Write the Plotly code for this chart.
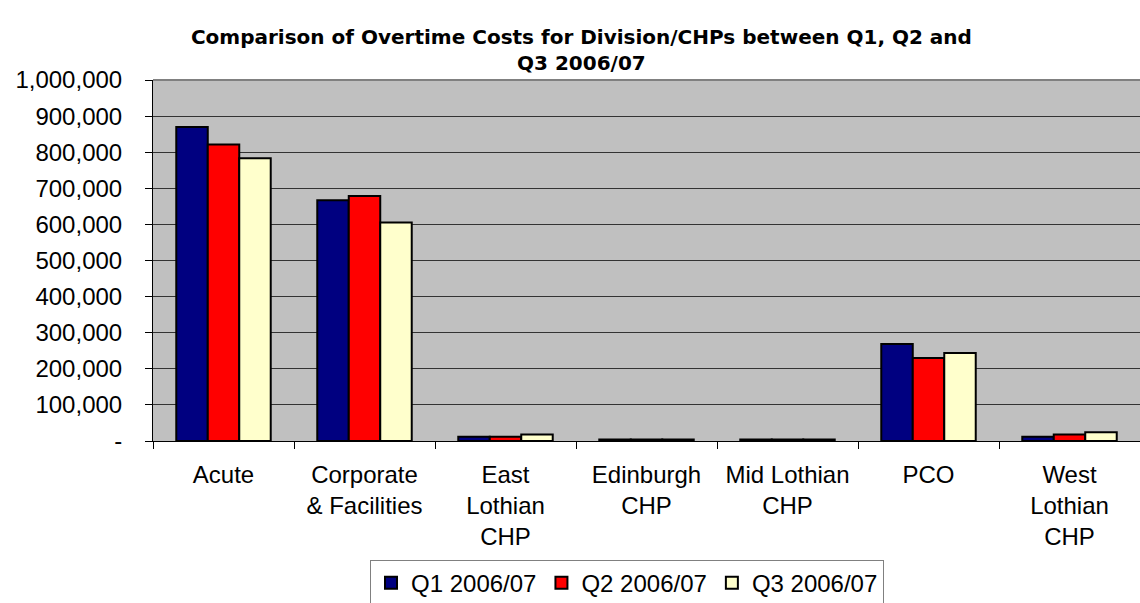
import plotly.graph_objects as go

# Overtime costs by Division/CHP for each quarter of 2006/07
categories = [
    "Acute",
    "Corporate<br>& Facilities",
    "East<br>Lothian<br>CHP",
    "Edinburgh<br>CHP",
    "Mid Lothian<br>CHP",
    "PCO",
    "West<br>Lothian<br>CHP",
]
q1_2006 = [870000, 667000, 12000, 4000, 4000, 269000, 12000]
q2_2006 = [821000, 679000, 12000, 4000, 4000, 230000, 18000]
q3_2006 = [783000, 605000, 18000, 4000, 4000, 244000, 24000]

series_names = ["Q1 2006/07", "Q2 2006/07", "Q3 2006/07"]
series_colors = ["#000080", "#FF0000", "#FFFFCC"]

y_ticks = list(range(0, 1000001, 100000))
y_labels = ["-"] + [f"{v:,}" for v in y_ticks[1:]]

FONT = "Liberation Sans, Arial, sans-serif"

fig = go.Figure()
for name, vals, col in zip(series_names, [q1_2006, q2_2006, q3_2006], series_colors):
    fig.add_trace(go.Bar(
        x=categories, y=vals, name=name,
        marker=dict(color=col, line=dict(color="black", width=2)),
    ))

fig.update_layout(
    width=1140, height=603,
    margin=dict(l=153, r=0, t=80, b=162, autoexpand=False),
    paper_bgcolor="white",
    plot_bgcolor="#C0C0C0",
    barmode="group",
    bargap=0.33,
    bargroupgap=0,
    font=dict(family=FONT, size=24, color="black"),
    title=dict(
        text="Comparison of Overtime Costs for Division/CHPs between Q1, Q2 and<br>Q3 2006/07",
        x=0.51, xanchor="center", xref="container",
        y=0.927, yanchor="top", yref="container",
        font=dict(family="DejaVu Sans, sans-serif", size=20, color="black", weight="bold"),
    ),
    legend=dict(
        orientation="h",
        x=0.55, xanchor="center", xref="container",
        y=0.072, yanchor="top", yref="container",
        bordercolor="#808080", borderwidth=1,
        font=dict(size=24),
        itemwidth=30,
        tracegroupgap=0,
    ),
    xaxis=dict(
        showgrid=False, automargin=False,
        ticks="outside", tickson="boundaries", ticklen=7, tickcolor="black",
        showline=True, linecolor="black", linewidth=1,
        ticklabelstandoff=12,
    ),
    yaxis=dict(
        range=[0, 1000000], automargin=False,
        tickvals=y_ticks, ticktext=y_labels,
        ticks="outside", ticklen=7, tickcolor="black",
        showline=True, linecolor="black", linewidth=1,
        showgrid=True, gridcolor="#333333", gridwidth=1,
        zeroline=False,
        ticklabelstandoff=18,
    ),
    shapes=[dict(
        type="line", xref="paper", yref="paper",
        x0=0, x1=1, y0=1, y1=1,
        line=dict(color="#808080", width=2),
    )],
)

fig.write_html("out.html")
